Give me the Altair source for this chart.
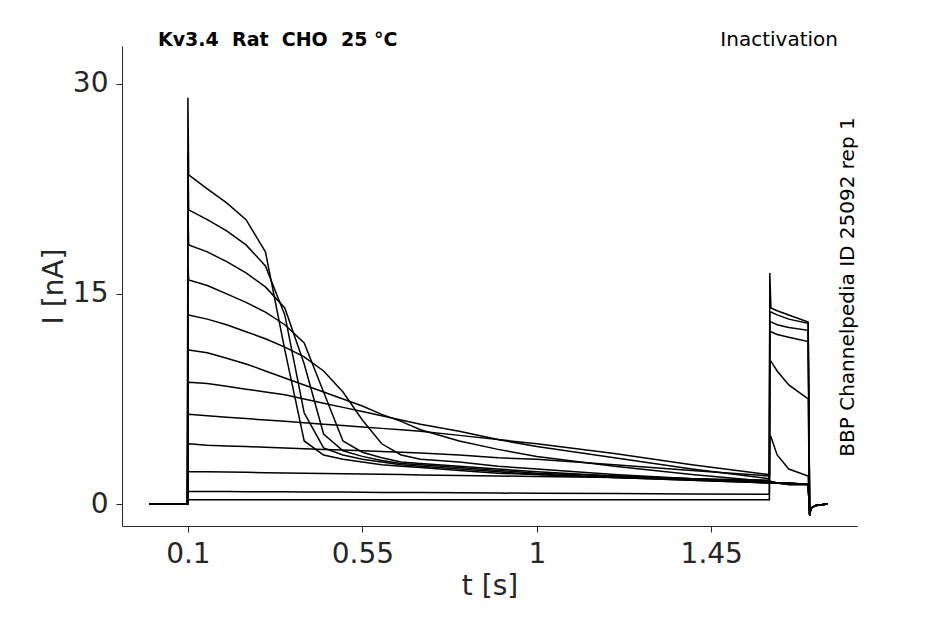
import pandas as pd
import altair as alt

# sample times (s); repeated steps at pulse edges
times = [0, 0.099, 0.1, 0.102, 0.15, 0.2, 0.25, 0.3, 0.35, 0.4, 0.45, 0.5, 0.55, 0.6, 0.65,
         0.7, 0.8, 0.9, 1.0, 1.2, 1.4, 1.6, 1.601, 1.604, 1.62, 1.65, 1.7, 1.704, 1.707, 1.72, 1.75]

# current traces (nA), one per conditioning step
traces = [
    [0, 0, 29, 23.5, 22.5, 21.5, 20.3, 18.0, 11.0, 4.5, 3.5, 3.2, 3.0, 2.8, 2.7, 2.6, 2.4, 2.2, 2.1, 1.9, 1.7, 1.5, 1.5, 1.5, 1.5, 1.4, 1.4, -0.8, -0.3, -0.1, 0],
    [0, 0, 25, 21.0, 20.3, 19.5, 18.5, 17.0, 13.5, 6.5, 4.0, 3.5, 3.2, 3.0, 2.8, 2.7, 2.5, 2.3, 2.1, 1.9, 1.7, 1.5, 1.5, 1.5, 1.5, 1.4, 1.4, -0.8, -0.3, -0.1, 0],
    [0, 0, 21, 18.5, 18.0, 17.3, 16.5, 15.5, 14.0, 10.0, 5.0, 3.8, 3.4, 3.1, 2.9, 2.8, 2.6, 2.4, 2.2, 2.0, 1.8, 1.6, 1.6, 1.6, 1.5, 1.5, 1.4, -0.8, -0.3, -0.1, 0],
    [0, 0, 17, 16.0, 15.6, 15.0, 14.4, 13.7, 12.8, 11.5, 8.0, 4.5, 3.7, 3.3, 3.0, 2.9, 2.7, 2.5, 2.3, 2.0, 1.8, 1.6, 1.6, 1.6, 1.5, 1.5, 1.4, -0.8, -0.3, -0.1, 0],
    [0, 0, 13.5, 13.5, 13.2, 12.8, 12.3, 11.8, 11.2, 10.5, 9.5, 8.0, 6.0, 4.3, 3.5, 3.2, 3.0, 2.7, 2.5, 2.1, 1.8, 1.5, 1.5, 1.5, 1.5, 1.4, 1.4, -0.8, -0.3, -0.1, 0],
    [0, 0, 11, 11.0, 10.8, 10.4, 10.0, 9.5, 9.0, 8.5, 8.0, 7.5, 7.0, 6.4, 5.9, 5.3, 4.5, 3.9, 3.4, 2.7, 2.1, 1.6, 1.6, 1.6, 1.5, 1.5, 1.4, -0.8, -0.3, -0.1, 0],
    [0, 0, 8.7, 8.7, 8.6, 8.4, 8.2, 8.0, 7.8, 7.5, 7.2, 6.9, 6.6, 6.3, 6.0, 5.7, 5.2, 4.6, 4.1, 3.3, 2.5, 1.8, 4.8, 4.8, 3.5, 2.5, 2.0, -0.8, -0.3, -0.1, 0],
    [0, 0, 6.4, 6.4, 6.3, 6.2, 6.1, 6.0, 5.9, 5.8, 5.7, 5.6, 5.5, 5.4, 5.3, 5.2, 4.9, 4.6, 4.3, 3.6, 2.8, 2.1, 10.2, 10.2, 9.5, 8.5, 7.5, -0.8, -0.3, -0.1, 0],
    [0, 0, 4.3, 4.3, 4.2, 4.15, 4.1, 4.05, 4.0, 3.95, 3.9, 3.85, 3.8, 3.75, 3.7, 3.65, 3.5, 3.3, 3.2, 2.8, 2.4, 2.0, 12.3, 12.3, 12.1, 11.9, 11.6, -0.8, -0.3, -0.1, 0],
    [0, 0, 2.3, 2.3, 2.3, 2.28, 2.26, 2.24, 2.22, 2.2, 2.18, 2.16, 2.14, 2.12, 2.1, 2.08, 2.04, 2.0, 1.97, 1.9, 1.8, 1.7, 13.0, 13.0, 12.8, 12.6, 12.4, -0.8, -0.3, -0.1, 0],
    [0, 0, 0.9, 0.9, 0.9, 0.9, 0.88, 0.88, 0.87, 0.86, 0.85, 0.85, 0.84, 0.83, 0.82, 0.82, 0.8, 0.78, 0.77, 0.75, 0.72, 0.7, 13.7, 13.7, 13.5, 13.2, 12.9, -0.8, -0.3, -0.1, 0],
    [0, 0, 0.3, 0.3, 0.3, 0.3, 0.3, 0.3, 0.3, 0.3, 0.3, 0.3, 0.3, 0.3, 0.3, 0.3, 0.3, 0.3, 0.3, 0.3, 0.3, 0.3, 16.5, 14.0, 13.8, 13.5, 13.0, -0.8, -0.3, -0.1, 0],
]

x_ticks = [0.1, 0.55, 1, 1.45]
y_ticks = [0, 15, 30]

rows = []
for k, tr in enumerate(traces):
    for j, (t, v) in enumerate(zip(times, tr)):
        rows.append({"trace": k, "idx": j, "t": t, "i": v})
df = pd.DataFrame(rows)

font = "DejaVu Sans"
nb = "\u00a0"

lines = alt.Chart(df).mark_line(color="black", strokeWidth=1.5).encode(
    x=alt.X("t:Q", title="t [s]",
            scale=alt.Scale(domain=[-0.07, 1.826], nice=False, zero=False),
            axis=alt.Axis(values=x_ticks, grid=False, labelExpr="format(datum.value, '~g')",
                          labelFontSize=28, titleFontSize=28, labelPadding=8,
                          titleFontWeight="normal", tickSize=6)),
    y=alt.Y("i:Q", title="I [nA]",
            scale=alt.Scale(domain=[-1.57, 32.7], nice=False, zero=False),
            axis=alt.Axis(values=y_ticks, grid=False, labelFontSize=28, titleFontSize=28,
                          labelPadding=8, titleFontWeight="normal", tickSize=6)),
    detail="trace:N",
    order="idx:Q",
)

title_left = alt.Chart(pd.DataFrame({"s": [f"Kv3.4{nb}{nb}Rat{nb}{nb}CHO{nb}{nb}25 °C"]})).mark_text(
    align="left", fontSize=19, fontWeight="bold", font=font, color="black"
).encode(x=alt.value(36), y=alt.value(-6), text="s:N")

title_right = alt.Chart(pd.DataFrame({"s": ["Inactivation"]})).mark_text(
    align="right", fontSize=20, font=font, color="black"
).encode(x=alt.value(716), y=alt.value(-6), text="s:N")

side = alt.Chart(pd.DataFrame({"s": ["BBP Channelpedia ID 25092 rep 1"]})).mark_text(
    align="center", angle=270, fontSize=20, font=font, color="black"
).encode(x=alt.value(726), y=alt.value(241), text="s:N")

chart = alt.layer(lines, title_left, title_right, side).properties(
    width=735, height=480,
    autosize=alt.AutoSizeParams(type="none"),
    padding={"left": 114, "top": 38, "right": 72, "bottom": 90},
).configure_view(stroke=None).configure_axis(
    labelFont=font, titleFont=font, labelColor="#262626", titleColor="#262626",
    domainColor="#262626", tickColor="#262626"
)

chart.save("out.html", embed_options={"renderer": "svg", "actions": False})
